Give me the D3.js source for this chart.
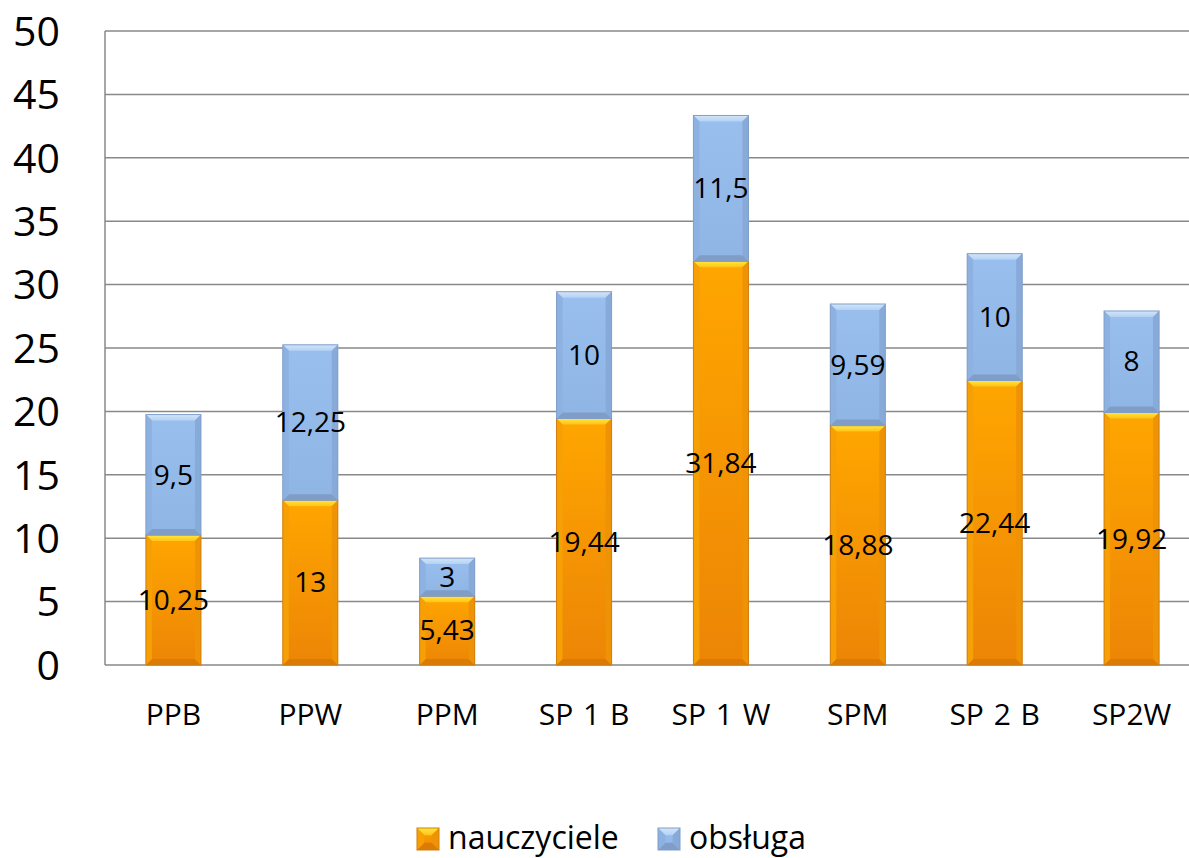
<!DOCTYPE html>
<html><head><meta charset="utf-8">
<script src="https://cdn.jsdelivr.net/npm/d3@7"></script>
<style>body{margin:0;background:#fff;} svg{display:block;font-family:"Open Sans",sans-serif;}</style>
</head><body>
<svg id="c" width="1189" height="858"></svg>
<script>
const categories = ["PPB","PPW","PPM","SP 1 B","SP 1 W","SPM","SP 2 B","SP2W"];
const nauczyciele = [10.25, 13, 5.43, 19.44, 31.84, 18.88, 22.44, 19.92];
const obsluga = [9.5, 12.25, 3, 10, 11.5, 9.59, 10, 8];
const labelsN = ["10,25","13","5,43","19,44","31,84","18,88","22,44","19,92"];
const labelsO = ["9,5","12,25","3","10","11,5","9,59","10","8"];
const yTicks = [0,5,10,15,20,25,30,35,40,45,50];
const seriesNames = ["nauczyciele","obsługa"];

(function(){
const svg = d3.select("#c");
const pL = 105, pR = 1200, pT = 31, pB = 665;
const x = d3.scaleBand().domain(categories).range([pL, pR]).paddingInner(0.598).paddingOuter(0.299);
const y = d3.scaleLinear().domain([0,50]).range([pB, pT]);

const defs = svg.append("defs");
function grad(id, c1, c2){
  const g = defs.append("linearGradient").attr("id", id).attr("x1",0).attr("y1",0).attr("x2",0).attr("y2",1);
  g.append("stop").attr("offset","0%").attr("stop-color",c1);
  g.append("stop").attr("offset","100%").attr("stop-color",c2);
}
grad("gO","#FFA600","#EC8506");
grad("gB","#98BFEE","#8FB5E5");
grad("gOt","#FFE83A","#FFC21A");
grad("gBt","#D2E5FA","#B4D1F3");

svg.append("g").selectAll("line").data(yTicks).join("line")
  .attr("x1", pL).attr("x2", pR).attr("y1", d=>y(d)).attr("y2", d=>y(d))
  .attr("stroke", "#898989").attr("stroke-width", 1.5);
svg.append("line").attr("x1",pL).attr("x2",pL).attr("y1",pT).attr("y2",pB)
  .attr("stroke","#898989").attr("stroke-width",1.5);

const yAxis = d3.axisLeft(y).tickValues(yTicks).tickSize(0).tickPadding(0);
const ya = svg.append("g").attr("transform", `translate(60,0)`).call(yAxis);
ya.select(".domain").remove();
ya.selectAll("text").attr("font-size", 41).attr("fill","#000").attr("font-family","Open Sans").attr("dy","0.35em");

const xAxis = d3.axisBottom(x).tickSize(0).tickPadding(0);
const xa = svg.append("g").attr("transform", `translate(0,725)`).call(xAxis);
xa.select(".domain").remove();
xa.selectAll("text").attr("font-size", 30).attr("fill","#000").attr("font-family","Open Sans")
  .attr("y",0).attr("dy","0").attr("word-spacing","2px");

function bevelBar(g, x0, y0, w, h, pal, bs){
  const b = Math.min(bs || 6, h/3, w/3);
  g.append("rect").attr("x",x0).attr("y",y0).attr("width",w).attr("height",h).attr("fill",pal.fill);
  g.append("polygon").attr("points",[[x0,y0],[x0+w,y0],[x0+w-b,y0+b],[x0+b,y0+b]].join(" ")).attr("fill",pal.top);
  g.append("polygon").attr("points",[[x0,y0+h],[x0+w,y0+h],[x0+w-b,y0+h-b],[x0+b,y0+h-b]].join(" ")).attr("fill",pal.bot);
  g.append("polygon").attr("points",[[x0,y0],[x0+b,y0+b],[x0+b,y0+h-b],[x0,y0+h]].join(" ")).attr("fill",pal.side);
  g.append("polygon").attr("points",[[x0+w,y0],[x0+w-b,y0+b],[x0+w-b,y0+h-b],[x0+w,y0+h]].join(" ")).attr("fill",pal.side2);
  g.append("rect").attr("x",x0).attr("y",y0).attr("width",w).attr("height",h).attr("fill","none").attr("stroke",pal.stroke).attr("stroke-width",1);
}
const palO = {fill:"url(#gO)", top:"url(#gOt)", bot:"#DC7A06", side:"#F7A005", side2:"#EE9305", stroke:"#D07E10"};
const palB = {fill:"url(#gB)", top:"url(#gBt)", bot:"#7F9DC6", side:"#8DB2E1", side2:"#87AAD8", stroke:"#809FC8"};

const bars = svg.append("g");
categories.forEach((c,i)=>{
  const g = bars.append("g");
  const xb = x(c), w = x.bandwidth();
  const n = nauczyciele[i], o = obsluga[i];
  bevelBar(g, xb, y(n), w, y(0)-y(n), palO);
  bevelBar(g, xb, y(n+o), w, y(n)-y(n+o), palB);
});
const lab = svg.append("g").attr("font-size",28).attr("text-anchor","middle").attr("fill","#000");
categories.forEach((c,i)=>{
  const cx = x(c)+x.bandwidth()/2;
  const n = nauczyciele[i], o = obsluga[i];
  lab.append("text").attr("x",cx).attr("y",y(n/2)).attr("dy","0.35em").text(labelsN[i]);
  lab.append("text").attr("x",cx).attr("y",y(n+o/2)).attr("dy","0.35em").text(labelsO[i]);
});

const leg = svg.append("g");
const legX = [417, 658];
[palO, palB].forEach((p,i)=>{
  const g = leg.append("g");
  bevelBar(g, legX[i], 828, 22, 22, p, 8);
  leg.append("text").attr("x", legX[i]+31).attr("y", 849)
    .attr("font-size", 32).attr("fill","#000").text(seriesNames[i]);
});
})();
</script>
</body></html>
